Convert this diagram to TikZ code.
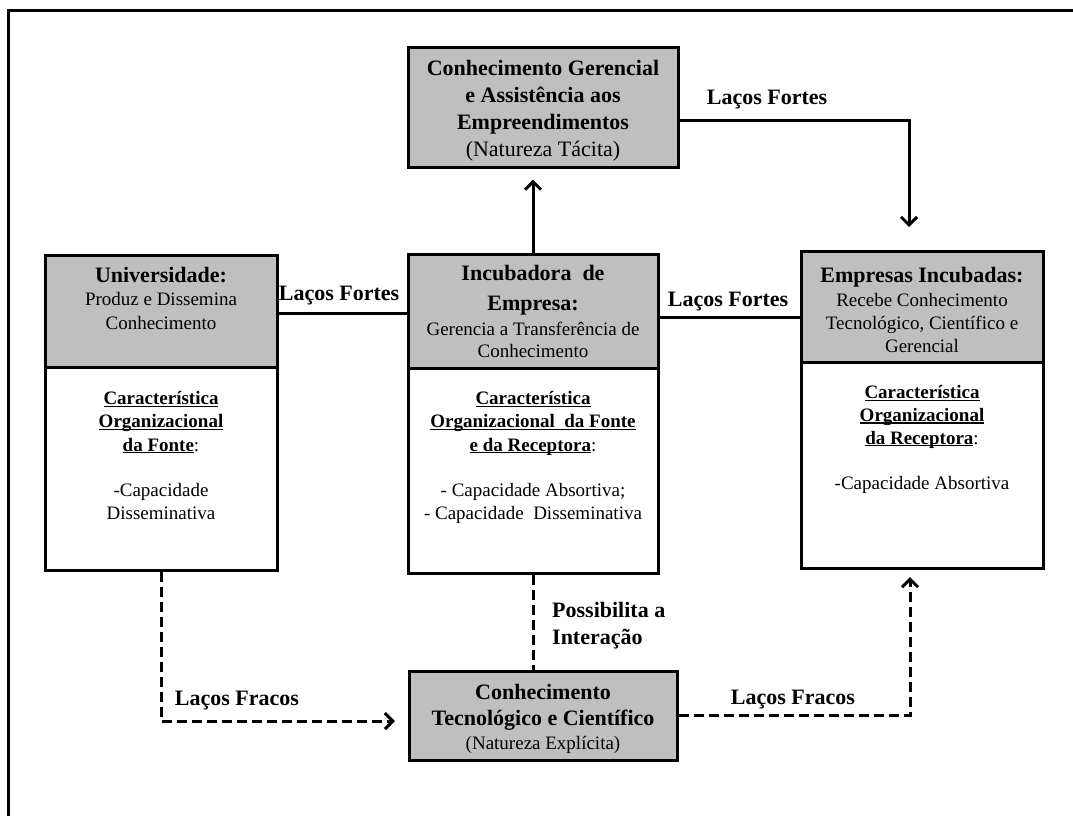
\documentclass[tikz,border=0pt]{standalone}
\usepackage{fontspec}
\setmainfont{Liberation Serif}
\usetikzlibrary{arrows.meta,calc}
\definecolor{hdrgray}{RGB}{191,191,191}
% underline set just under the baseline, crossing descenders
\newcommand\ulx[1]{\setbox0\hbox{#1}\rlap{\rule[-2.4pt]{\wd0}{1.2pt}}\box0}
\begin{document}
\begin{tikzpicture}[x=1pt,y=-1pt,
  boxH/.style={draw=black,line width=3pt,fill=hdrgray,inner sep=0pt},
  boxB/.style={draw=black,line width=3pt,fill=white,inner sep=0pt},
  txt/.style={inner sep=0pt,align=center,font=\fontsize{19}{23.3}\selectfont},
  lbl/.style={inner sep=0pt,font=\fontsize{22}{27}\selectfont\bfseries},
  conn/.style={line width=3pt},
  weak/.style={line width=3pt,dash pattern=on 10pt off 5pt},
  arr/.style={-{Straight Barb[length=8pt,width=16pt]}}]
\useasboundingbox (0,0) rectangle (1073,815);

% outer frame (top and left edges)
\coordinate (fTL) at (8,10);
\coordinate (fTR) at (1080,10);
\coordinate (fBL) at (8,820);
\draw[line width=3pt] (fTR) -- (fTL) -- (fBL);

% Universidade
\node[boxB,minimum width=232pt,minimum height=203pt] (univB) at (161,468.5) {};
\node[boxH,minimum width=232pt,minimum height=112pt] (univH) at (161,311) {};
% Incubadora
\node[boxB,minimum width=250pt,minimum height=205pt] (incB) at (533,470.5) {};
\node[boxH,minimum width=250pt,minimum height=114pt] (incH) at (533,311) {};
% Empresas incubadas
\node[boxB,minimum width=242pt,minimum height=206pt] (empB) at (922,465) {};
\node[boxH,minimum width=242pt,minimum height=111pt] (empH) at (922,306.5) {};
% top and bottom knowledge boxes
\node[boxH,minimum width=270pt,minimum height=120pt] (topB) at (543,107) {};
\node[boxH,minimum width=268pt,minimum height=89pt] (botB) at (543,715.5) {};

% texts
\node[txt,anchor=north] (univHt) at (161,267)
  {{\fontsize{22}{23}\selectfont\bfseries Universidade:}\\Produz e Dissemina\\Conhecimento};
\node[txt,anchor=north] (univBt) at (161,391)
  {{\bfseries\ulx{Característica}}\\{\bfseries\ulx{Organizacional}}\\{\bfseries\ulx{da Fonte}}:\\[22pt]-Capacidade\\Disseminativa};

\node[txt,anchor=north] (incHt) at (533,265)
  {{\fontsize{22}{23}\selectfont\bfseries Incubadora\ \ de}\\[7pt]{\fontsize{22}{23}\selectfont\bfseries Empresa:}\\[1pt]Gerencia a Transferência de\\[-1pt]Conhecimento};
\node[txt,anchor=north] (incBt) at (533,391)
  {{\bfseries\ulx{Característica}}\\{\bfseries\ulx{Organizacional\ \ da Fonte}}\\{\bfseries\ulx{e da Receptora}}:\\[22pt]- Capacidade Absortiva;\\- Capacidade\ \ Disseminativa};

\node[txt,anchor=north] (empHt) at (922,267)
  {{\fontsize{22}{23}\selectfont\bfseries Empresas\ Incubadas:}\\[1pt]Recebe Conhecimento\\[-1pt]Tecnológico, Científico e\\Gerencial};
\node[txt,anchor=north] (empBt) at (922,385)
  {{\bfseries\ulx{Característica}}\\[-0.5pt]{\bfseries\ulx{Organizacional}}\\[-0.5pt]{\bfseries\ulx{da Receptora}}:\\[22pt]-Capacidade Absortiva};

\node[txt,anchor=north,font=\fontsize{22}{27}\selectfont] (topBt) at (543,60)
  {{\bfseries Conhecimento Gerencial}\\{\bfseries e Assistência aos}\\{\bfseries Empreendimentos}\\(Natureza Tácita)};
\node[txt,anchor=north,font=\fontsize{22}{26}\selectfont] (botBt) at (543,684)
  {{\bfseries Conhecimento}\\{\bfseries Tecnológico e Científico}\\[-2pt]{\fontsize{19}{23}\selectfont (Natureza Explícita)}};

% connector labels
\node[lbl,anchor=base] (lfTop) at (767,104) {Laços Fortes};
\node[lbl,anchor=base] (lfLeft) at (339,300) {Laços Fortes};
\node[lbl,anchor=base] (lfRight) at (728,306) {Laços Fortes};
\node[lbl,anchor=base] (lwLeft) at (237,705) {Laços Fracos};
\node[lbl,anchor=base] (lwRight) at (793,704) {Laços Fracos};
\node[lbl,anchor=north west,align=left] (poss) at (552,602) {Possibilita a\\Interação};

% strong ties
\draw[conn,arr] (incH.north) -- ($(incH.north |- topB.south)+(0,11)$);
\coordinate (kTop) at (909,227);
\draw[conn,arr] ([yshift=-13pt]topB.east) -| (kTop);
\draw[conn] ([yshift=-2pt]univH.east) -- ([yshift=-2pt]univH.east -| incH.west);
\draw[conn] ([yshift=-6pt]incH.east) -- ([yshift=-6pt]incH.east -| empH.west);

% weak ties
\coordinate (kLeft) at (395,721);
\draw[weak,arr] (univB.south) |- (kLeft);
\draw[weak] (incB.south) -- (incB.south |- botB.north);
\coordinate (kRight) at (910,577);
\draw[weak,arr] (botB.east) -| (kRight);
\end{tikzpicture}
\end{document}
